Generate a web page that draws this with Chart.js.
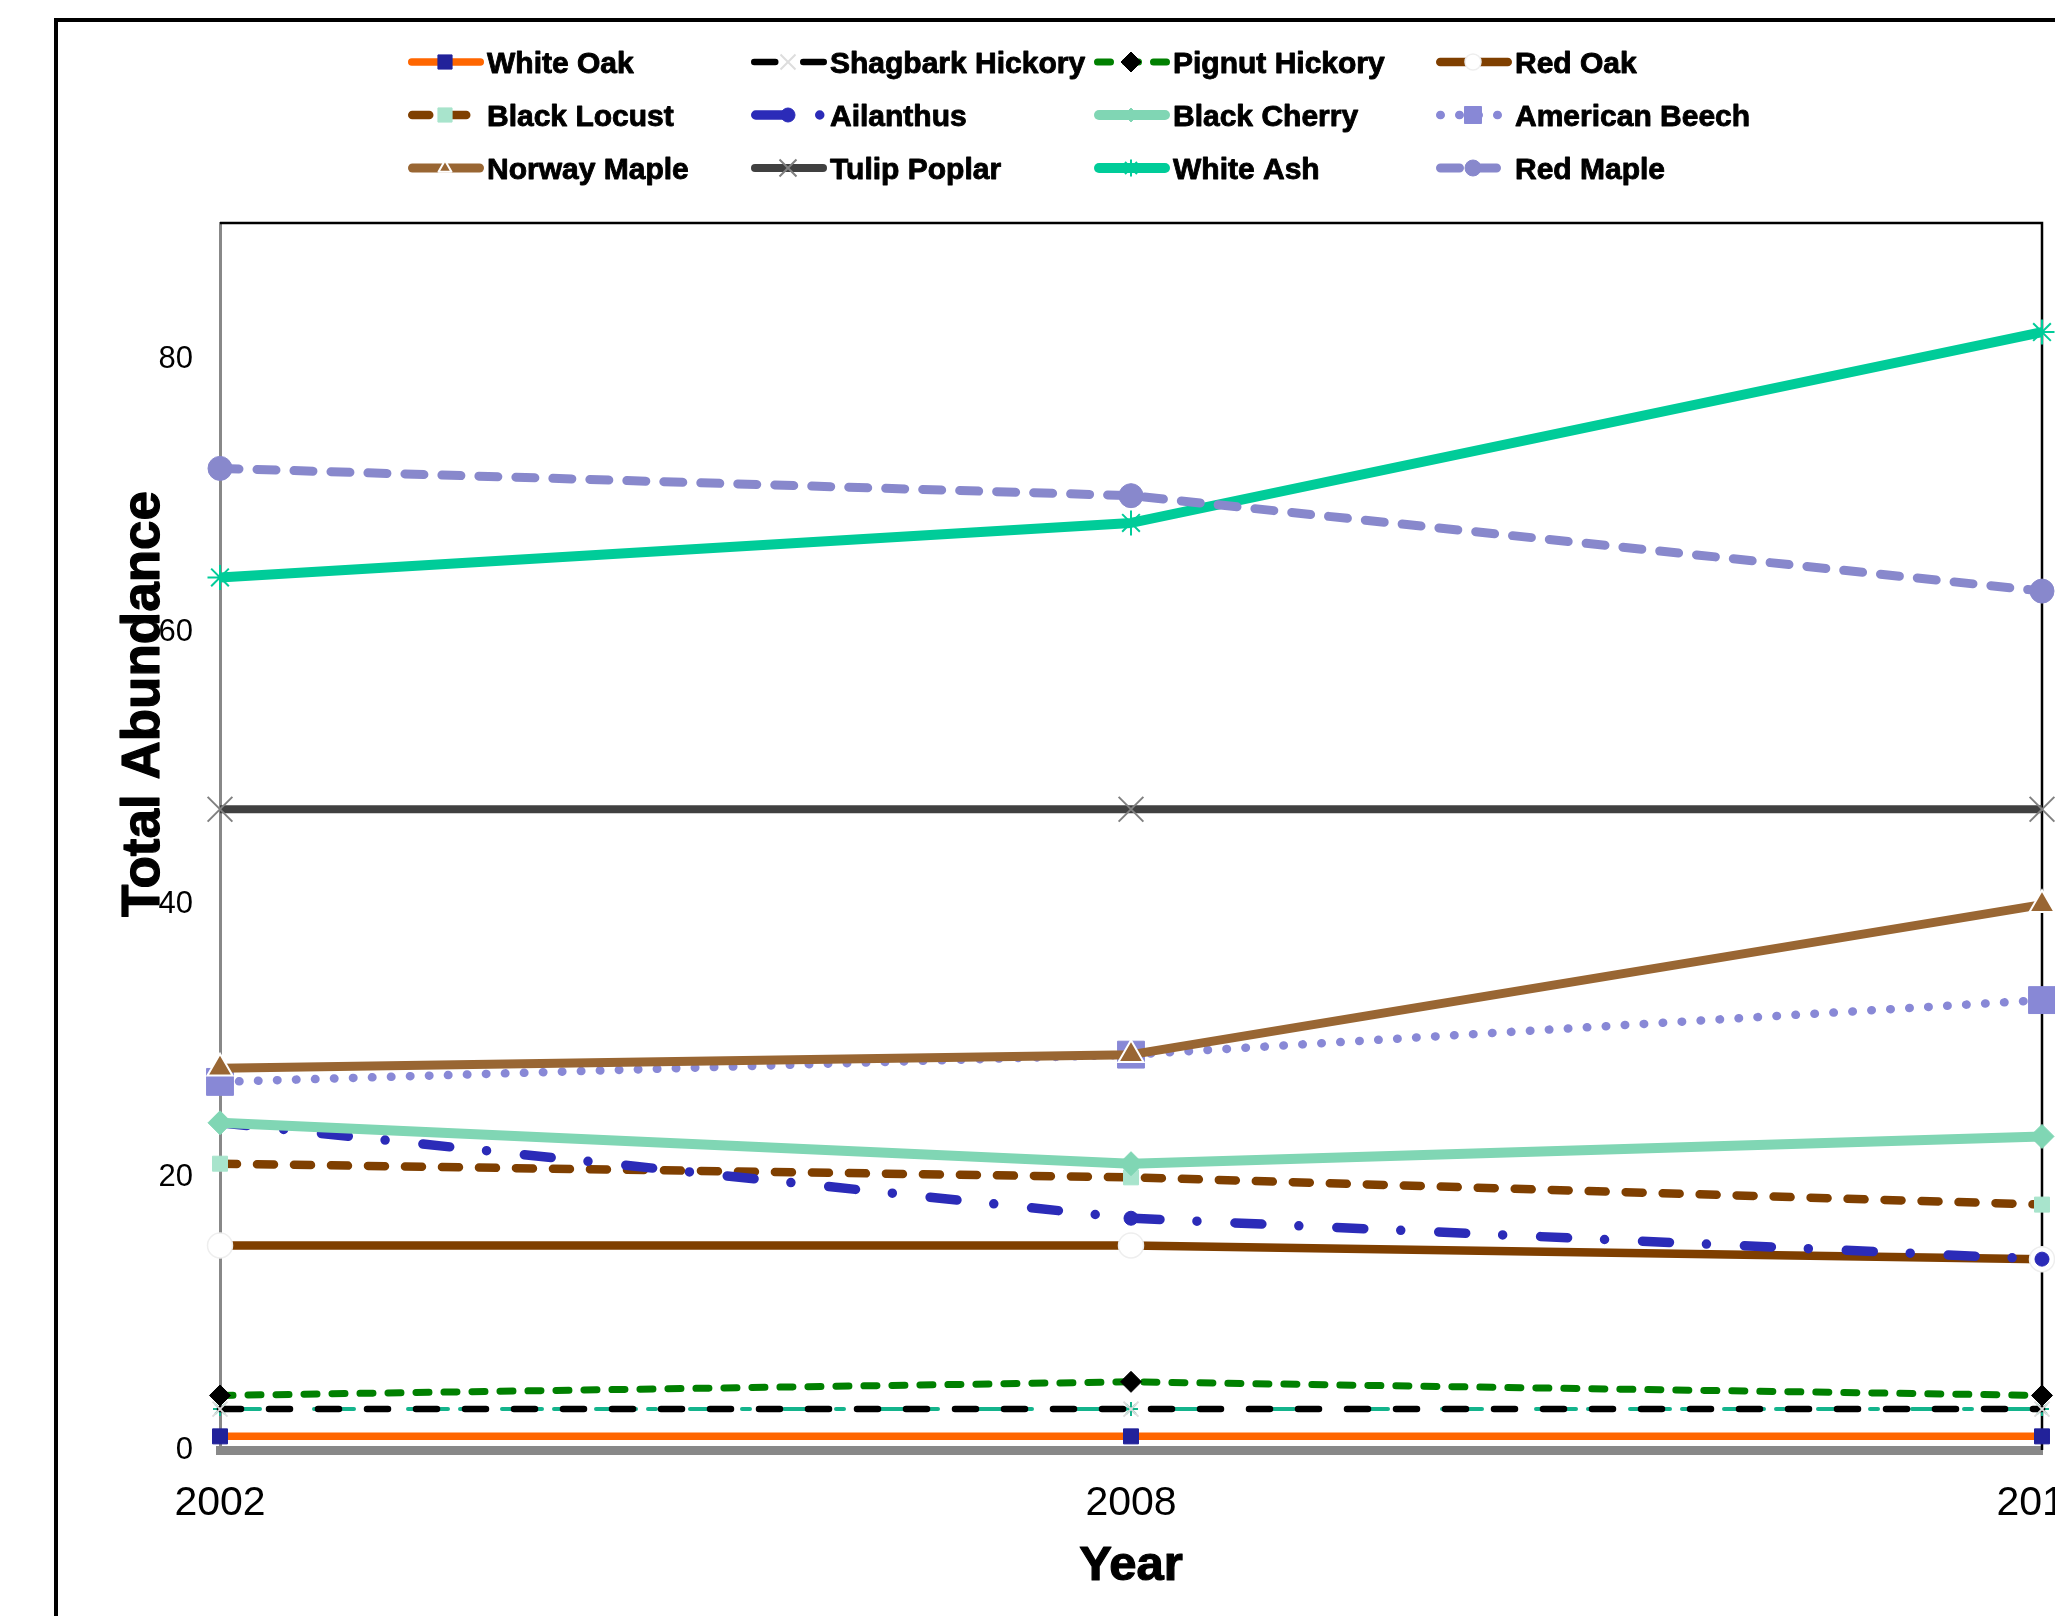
<!DOCTYPE html>
<html>
<head>
<meta charset="utf-8">
<script src="https://cdn.jsdelivr.net/npm/chart.js@4.4.1/dist/chart.umd.min.js"></script>
<style>
html, body { margin: 0; padding: 0; background: #fff; overflow: hidden; width: 2055px; height: 1616px; }
#wrap { position: absolute; left: 0; top: 0; width: 2150px; height: 1700px; }
canvas { display: block; }
</style>
</head>
<body>
<div id="wrap"><canvas id="c" width="2150" height="1700" style="width:2150px;height:1700px"></canvas></div>
<script>
// ---------------- data ----------------
const years = ['2002', '2008', '2014'];
const yTickValues = [0, 20, 40, 60, 80];
const seriesNames = ['White Oak', 'Shagbark Hickory', 'Pignut Hickory', 'Red Oak',
  'Black Locust', 'Ailanthus', 'Black Cherry', 'American Beech',
  'Norway Maple', 'Tulip Poplar', 'White Ash', 'Red Maple'];
const whiteOak        = [1, 1, 1];
const shagbarkHickory = [3, 3, 3];
const pignutHickory   = [4, 5, 4];
const redOak          = [15, 15, 14];
const blackLocust     = [21, 20, 18];
const ailanthus       = [24, 17, 14];
const blackCherry     = [24, 21, 23];
const americanBeech   = [27, 29, 33];
const norwayMaple     = [28, 29, 40];
const tulipPoplar     = [47, 47, 47];
const whiteAsh        = [64, 68, 82];
const redMaple        = [72, 70, 63];
const unlistedSeries  = [3, 3, 3];   // teal dashed series without a legend entry

const seriesValues = [whiteOak, shagbarkHickory, pignutHickory, redOak, blackLocust, ailanthus,
  blackCherry, americanBeech, norwayMaple, tulipPoplar, whiteAsh, redMaple];

// ---------------- styles ----------------
const styles = {
  'White Oak':        { color: '#FF6600', width: 7.5, dash: [],              pt: 'rect',     r: 10.6, lr: 10,  fill: '#22229A', stroke: '#22229A', pw: 1 },
  'Shagbark Hickory': { color: '#000000', width: 6.5, dash: [21, 28],        pt: 'crossRot', r: 10.6, lr: 10.6, fill: '#DDDDDD', stroke: '#DDDDDD', pw: 2 },
  'Pignut Hickory':   { color: '#008000', width: 7,   dash: [13, 15],        pt: 'rectRot',  r: 10.5, lr: 10,  fill: '#000000', stroke: '#000000', pw: 1 },
  'Red Oak':          { color: '#7F3F00', width: 8.5, dash: [],              pt: 'circle',   r: 12.5, lr: 8,   fill: '#FFFFFF', stroke: '#EEEEEE', pw: 1.5 },
  'Black Locust':     { color: '#7F3F00', width: 8.5, dash: [17, 20],        pt: 'rect',     r: 10.6, lr: 10,  fill: '#A8E4CC', stroke: '#A8E4CC', pw: 1 },
  'Ailanthus':        { color: '#2B2BB8', width: 9.5, dash: [27, 37, 0, 38], pt: 'circle',   r: 7,    lr: 7,   fill: '#2B2BB8', stroke: '#2B2BB8', pw: 1 },
  'Black Cherry':     { color: '#80D6B4', width: 10,  dash: [],              pt: 'rectRot',  r: 12,   lr: 7,   fill: '#80D6B4', stroke: '#80D6B4', pw: 1 },
  'American Beech':   { color: '#8888D6', width: 8.5, dash: [0.5, 18.5],     pt: 'rect',     r: 19,   lr: 12,  fill: '#8888D6', stroke: '#8888D6', pw: 1 },
  'Norway Maple':     { color: '#996633', width: 9,   dash: [],              pt: 'triangle', r: 14.5, lr: 7.5, fill: '#996633', stroke: '#FFFFFF', pw: 2 },
  'Tulip Poplar':     { color: '#404040', width: 8,   dash: [],              pt: 'crossRot', r: 17.5, lr: 12,  fill: '#808080', stroke: '#808080', pw: 2 },
  'White Ash':        { color: '#00CC99', width: 10,  dash: [],              pt: 'star',     r: 12.5, lr: 8.5, fill: '#00CC99', stroke: '#00CC99', pw: 2 },
  'Red Maple':        { color: '#8888CC', width: 9,   dash: [19, 18],        pt: 'circle',   r: 12,   lr: 8,   fill: '#8888CC', stroke: '#8888CC', pw: 1 }
};
const unlistedStyle = { color: '#14B48C', width: 4, dash: [40, 12, 8, 34], pt: 'star', r: 7, fill: '#14B48C', stroke: '#14B48C', pw: 2 };

const FONT = "'Liberation Sans', Arial, Helvetica, sans-serif";
Chart.defaults.font.family = FONT;
Chart.defaults.color = '#000';

function makeDataset(label, data, s, order) {
  return {
    label: label, data: data, order: order,
    borderColor: s.color, borderWidth: s.width, borderDash: s.dash,
    borderCapStyle: s.dash.length ? 'round' : 'butt', borderJoinStyle: 'round',
    fill: false, tension: 0, clip: false,
    pointStyle: s.pt, pointRadius: s.r, pointHoverRadius: s.r,
    pointBackgroundColor: s.fill, pointBorderColor: s.stroke, pointBorderWidth: s.pw
  };
}

const total = seriesNames.length + 1;
const datasets = [makeDataset('', unlistedSeries, unlistedStyle, total)];
seriesNames.forEach((n, i) => datasets.push(makeDataset(n, seriesValues[i], styles[n], total - 1 - i)));

// ---------------- marker helper (legend) ----------------
function marker(ctx, type, x, y, r, fill, stroke, lw) {
  ctx.save();
  ctx.setLineDash([]);
  ctx.beginPath();
  const Q = Math.PI / 4;
  let filled = true;
  if (type === 'circle') ctx.arc(x, y, r, 0, 2 * Math.PI);
  else if (type === 'rect') { const s = Math.SQRT1_2 * r; ctx.rect(x - s, y - s, 2 * s, 2 * s); }
  else if (type === 'rectRot') { ctx.moveTo(x - r, y); ctx.lineTo(x, y - r); ctx.lineTo(x + r, y); ctx.lineTo(x, y + r); ctx.closePath(); }
  else if (type === 'triangle') {
    for (let k = 0; k < 3; k++) {
      const a = k * 2 * Math.PI / 3;
      const px = x + Math.sin(a) * r, py = y - Math.cos(a) * r;
      if (k) ctx.lineTo(px, py); else ctx.moveTo(px, py);
    }
    ctx.closePath();
  } else {
    filled = false;
    const arms = type === 'crossRot' ? [Q] : (type === 'cross' ? [0] : [0, Q]);
    arms.forEach(a => {
      const c = Math.cos(a) * r, s = Math.sin(a) * r;
      ctx.moveTo(x - c, y - s); ctx.lineTo(x + c, y + s);
      ctx.moveTo(x + s, y - c); ctx.lineTo(x - s, y + c);
    });
  }
  if (filled) { ctx.fillStyle = fill; ctx.fill(); }
  if (lw > 0) { ctx.strokeStyle = stroke; ctx.lineWidth = lw; ctx.stroke(); }
  ctx.restore();
}

function heavyText(ctx, text, x, y, sw) {
  ctx.fillText(text, x, y);
  ctx.lineWidth = sw;
  ctx.strokeStyle = '#000';
  ctx.lineJoin = 'round';
  ctx.strokeText(text, x, y);
}

// ---------------- decoration plugin ----------------
const legendCols = [408, 751, 1094, 1436];
const legendRows = [62, 115, 168];

const decor = {
  id: 'decor',
  beforeDraw(chart) {
    const ctx = chart.ctx;
    ctx.save();
    ctx.fillStyle = '#fff';
    ctx.fillRect(0, 0, chart.width, chart.height);
    ctx.strokeStyle = '#000';
    ctx.lineWidth = 4;
    ctx.beginPath();
    ctx.moveTo(56, chart.height + 10);
    ctx.lineTo(56, 20);
    ctx.lineTo(chart.width + 10, 20);
    ctx.stroke();
    ctx.restore();
  },
  beforeDatasetsDraw(chart) {
    const { ctx, chartArea: a } = chart;
    ctx.save();
    ctx.strokeStyle = '#000';
    ctx.lineWidth = 2.5;
    ctx.beginPath();
    ctx.moveTo(a.left, a.top);
    ctx.lineTo(a.right, a.top);
    ctx.lineTo(a.right, a.bottom);
    ctx.stroke();
    ctx.restore();
  },
  afterDraw(chart) {
    const ctx = chart.ctx;
    const a = chart.chartArea;
    ctx.save();
    // axis titles
    ctx.fillStyle = '#000';
    ctx.font = 'bold 53px ' + FONT;
    ctx.textAlign = 'center';
    ctx.textBaseline = 'alphabetic';
    ctx.save();
    ctx.translate(159, 704);
    ctx.rotate(-Math.PI / 2);
    heavyText(ctx, 'Total Abundance', 0, 0, 1.2);
    ctx.restore();
    ctx.font = 'bold 49px ' + FONT;
    heavyText(ctx, 'Year', (a.left + a.right) / 2, 1580, 1.2);

    // legend
    ctx.font = 'bold 30px ' + FONT;
    ctx.textAlign = 'left';
    seriesNames.forEach((n, i) => {
      const s = styles[n];
      const x0 = legendCols[i % 4];
      const y = legendRows[Math.floor(i / 4)];
      ctx.save();
      ctx.strokeStyle = s.color;
      ctx.lineWidth = s.width;
      ctx.lineCap = 'round';
      ctx.setLineDash(s.dash);
      ctx.beginPath();
      ctx.moveTo(x0 + s.width / 2, y);
      ctx.lineTo(x0 + 76 - s.width / 2, y);
      ctx.stroke();
      ctx.restore();
      marker(ctx, s.pt, x0 + 37, y, s.lr, s.fill, s.stroke, s.pw);
      ctx.fillStyle = '#000';
      heavyText(ctx, n, x0 + 79, y + 10.7, 0.9);
    });
    ctx.restore();
  }
};

new Chart(document.getElementById('c'), {
  type: 'line',
  data: { labels: years, datasets: datasets },
  plugins: [decor],
  options: {
    responsive: false,
    devicePixelRatio: 1,
    animation: false,
    events: [],
    layout: { padding: { top: 223, right: 108, bottom: 0, left: 0 } },
    plugins: { legend: { display: false }, tooltip: { enabled: false }, title: { display: false } },
    scales: {
      x: {
        type: 'category',
        offset: false,
        grid: { display: false, drawTicks: false },
        border: { display: true, color: '#888888', width: 9 },
        ticks: { font: { size: 41 }, color: '#000', padding: 29, maxRotation: 0, autoSkip: false },
        afterFit(scale) { scale.height = 250; }
      },
      y: {
        min: 0, max: 90,
        grid: { display: false, drawTicks: false },
        border: { display: true, color: '#888888', width: 3 },
        ticks: { font: { size: 31 }, color: '#000', padding: 27, stepSize: 20, includeBounds: false },
        afterBuildTicks(scale) { scale.ticks = yTickValues.map(v => ({ value: v })); },
        afterFit(scale) { scale.width = 220; }
      }
    }
  }
});
</script>
</body>
</html>
